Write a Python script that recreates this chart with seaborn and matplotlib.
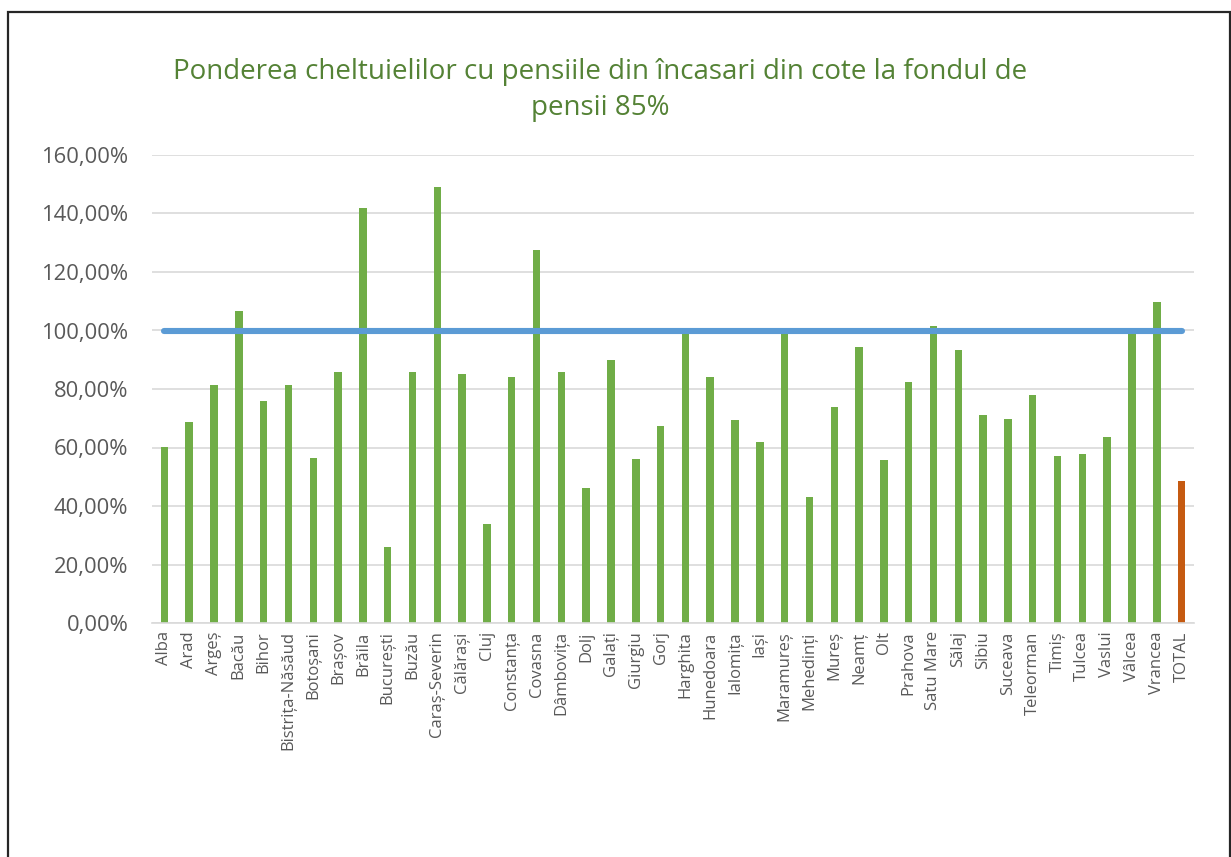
import matplotlib
matplotlib.use("Agg")
import matplotlib.pyplot as plt
from matplotlib.ticker import FuncFormatter, MultipleLocator
from matplotlib.patches import Rectangle
import seaborn as sns
import pandas as pd

#judete si ponderea cheltuielilor cu pensiile (fractie din 1)
judete = ["Alba", "Arad", "Argeș", "Bacău", "Bihor", "Bistrița-Năsăud", "Botoșani",
          "Brașov", "Brăila", "București", "Buzău", "Caraș-Severin", "Călărași", "Cluj",
          "Constanța", "Covasna", "Dâmbovița", "Dolj", "Galați", "Giurgiu", "Gorj",
          "Harghita", "Hunedoara", "Ialomița", "Iași", "Maramureș", "Mehedinți", "Mureș",
          "Neamț", "Olt", "Prahova", "Satu Mare", "Sălaj", "Sibiu", "Suceava", "Teleorman",
          "Timiș", "Tulcea", "Vaslui", "Vâlcea", "Vrancea", "TOTAL"]
ponderi = [0.603, 0.687, 0.814, 1.067, 0.758, 0.815, 0.563,
           0.858, 1.418, 0.259, 0.858, 1.491, 0.851, 0.337,
           0.840, 1.275, 0.858, 0.460, 0.900, 0.561, 0.674,
           0.994, 0.840, 0.694, 0.618, 0.994, 0.432, 0.738,
           0.944, 0.557, 0.825, 1.015, 0.933, 0.711, 0.697, 0.778,
           0.572, 0.578, 0.636, 0.994, 1.097, 0.485]
#pragul de 100%
prag = 1.00

verde = "#70AD47"
portocaliu = "#C55A11"
albastru = "#5B9BD5"

df = pd.DataFrame({"judet": judete, "pondere": ponderi})
culori = {j: (portocaliu if j == "TOTAL" else verde) for j in judete}

sns.set_style("white")
plt.rcParams['font.family'] = ['Open Sans', 'DejaVu Sans']

fig = plt.figure(figsize=(12.31, 8.57), dpi=100)
ax = fig.add_axes([152 / 1231, 1 - 623 / 857, (1194 - 152) / 1231, (623 - 155) / 857])

sns.barplot(data=df, x="judet", y="pondere", hue="judet", palette=culori,
            legend=False, width=0.3, saturation=1, linewidth=0, ax=ax, zorder=2)

#linia de 100%
ax.hlines(prag, 0, len(judete) - 1, color=albastru, linewidth=4.4,
          capstyle='round', zorder=3)

ax.set_ylim(0, 1.6)
ax.set_xlim(-0.5, len(judete) - 0.5)
ax.yaxis.set_major_locator(MultipleLocator(0.2))
ax.yaxis.set_major_formatter(FuncFormatter(lambda v, p: f"{v * 100:.2f}%".replace(".", ",")))
ax.grid(axis='y', color="#D9D9D9", linewidth=1.2, zorder=0)
ax.set_axisbelow(True)
for s in ["top", "right", "left"]:
    ax.spines[s].set_visible(False)
ax.spines["bottom"].set_color("#D9D9D9")
ax.spines["bottom"].set_linewidth(1.2)
ax.set_xlabel("")
ax.set_ylabel("")
ax.tick_params(axis='y', labelsize=15.8, colors="#595959", length=0, pad=17)
ax.tick_params(axis='x', labelsize=12, colors="#595959", length=0, pad=6)
plt.setp(ax.get_xticklabels(), rotation=90)

fig.text(600 / 1231, 1 - 72 / 857, "Ponderea cheltuielilor cu pensiile din încasari din cote la fondul de",
         ha='center', va='center', fontsize=20, color="#548235")
fig.text(600 / 1231, 1 - 108 / 857, "pensii 85%",
         ha='center', va='center', fontsize=20, color="#548235")

#chenarul graficului
fig.patches.append(Rectangle((8 / 1231, -0.05), (1230 - 8) / 1231, 1 - 12 / 857 + 0.05,
                             transform=fig.transFigure, fill=False,
                             edgecolor="#262626", linewidth=1.6))

fig.savefig("out.png", dpi=100)
